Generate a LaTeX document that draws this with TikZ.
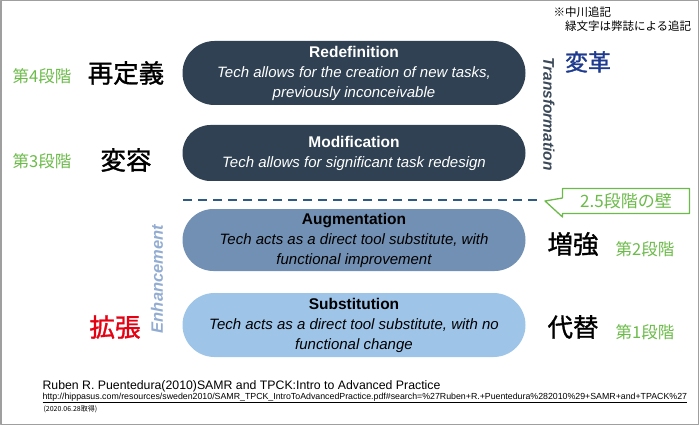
\documentclass[tikz,border=0pt]{standalone}
\usepackage{fontspec}
\setmainfont{Liberation Sans}
\newfontfamily\jp{Noto Sans CJK JP}
\newfontfamily\jpk[FakeBold=1.2]{Noto Sans CJK JP}
\usetikzlibrary{shapes.misc,shapes.callouts}
\definecolor{slate}{HTML}{2F4152}
\definecolor{steel}{HTML}{7190B3}
\definecolor{sky}{HTML}{9EC4E8}
\definecolor{dan}{HTML}{6CBB4A}
\definecolor{kakuchou}{HTML}{E50012}
\definecolor{henkaku}{HTML}{1D3A8F}
\definecolor{wallblue}{HTML}{2E5B84}
\definecolor{enh}{HTML}{93ADD2}
\definecolor{trans}{HTML}{3A4858}
\newcommand\ttl[1]{{\bfseries\fontsize{15.5}{20}\selectfont#1}}
\begin{document}
\begin{tikzpicture}[x=1pt,y=-1pt,line join=round,
  pill/.style={rounded rectangle,minimum width=343pt,align=center,inner sep=0pt,
    font=\fontsize{15}{20}\selectfont},
  dan/.style={text=dan,font=\jp\fontsize{16.5}{16.5}\selectfont},
  kanji/.style={font=\jpk\fontsize{25.5}{25.5}\selectfont},
  side/.style={font=\bfseries\itshape\fontsize{15.5}{16}\selectfont},
  wallbox/.style={rectangle callout,draw=dan,line width=1.3pt,fill=white,text=dan,
    font=\jp\fontsize{17}{17}\selectfont,minimum width=127pt,minimum height=25pt,
    inner sep=2pt,callout absolute pointer={(545,201)},callout pointer width=19pt}]
\useasboundingbox (0,0) rectangle (699,425);
\draw[gray!75,line width=1.5pt] (0.75,0.75) rectangle (698.25,424.25);
% SAMR levels
\node[pill,fill=slate,text=white,minimum height=64pt] (redef) at (354,73)
  {\ttl{Redefinition}\\\itshape Tech allows for the creation of new tasks,\\\itshape previously inconceivable};
\node[pill,fill=slate,text=white,minimum height=56pt] (modif) at (354,153)
  {\ttl{Modification}\\\itshape Tech allows for significant task redesign};
\node[pill,fill=steel,text=black,minimum height=62pt] (augm) at (354,240)
  {\ttl{Augmentation}\\\itshape Tech acts as a direct tool substitute, with\\\itshape functional improvement};
\node[pill,fill=sky,text=black,minimum height=64pt] (subst) at (354,325)
  {\ttl{Substitution}\\\itshape Tech acts as a direct tool substitute, with no\\\itshape functional change};
% the wall
\coordinate (wallL) at (183,200);
\coordinate (wallR) at (539,200);
\draw[wallblue,line width=2.5pt,dash pattern=on 9pt off 6pt] (wallL)--(wallR);
\node[wallbox] (wall) at (626,201) {2.5段階の壁};
% labels
\node[dan] (d4) at (42,76) {第4段階};
\node[kanji] (redefj) at (126,73) {再定義};
\node[dan] (d3) at (42,161) {第3段階};
\node[kanji] (modifj) at (126,160) {変容};
\node[kanji,text=henkaku,font=\jpk\fontsize{23}{23}\selectfont] (henkaku) at (588,62) {変革};
\node[side,text=trans,rotate=-90] (transf) at (549,114) {Transformation};
\node[side,text=enh,rotate=90,font=\bfseries\itshape\fontsize{16.5}{17}\selectfont] (enhan) at (157,279) {Enhancement};
\node[kanji,text=kakuchou] (kakuj) at (115,327) {拡張};
\node[kanji] (augj) at (573,244) {増強};
\node[dan] (d2) at (645,249) {第2段階};
\node[kanji] (subj) at (573,327) {代替};
\node[dan] (d1) at (645,332) {第1段階};
\node[anchor=north west,align=left,font=\jp\fontsize{11.5}{14}\selectfont] (note) at (550,3)
  {※中川追記\\　緑文字は弊誌による追記};
% source
\node[anchor=west,font=\fontsize{12.3}{13}\selectfont] (cite) at (39,386)
  {Ruben R. Puentedura(2010)SAMR and TPCK:Intro to Advanced Practice};
\node[anchor=west,font=\fontsize{8.8}{9}\selectfont] (url) at (39,398)
  {\underline{http://hippasus.com/resources/sweden2010/SAMR\_TPCK\_IntroToAdvancedPractice.pdf\#search=\%27Ruben+R.+Puentedura\%282010\%29+SAMR+and+TPACK\%27}};
\node[anchor=west,font=\jp\fontsize{7}{8}\selectfont] (date) at (40,409) {(2020.06.28取得)};
\end{tikzpicture}
\end{document}
